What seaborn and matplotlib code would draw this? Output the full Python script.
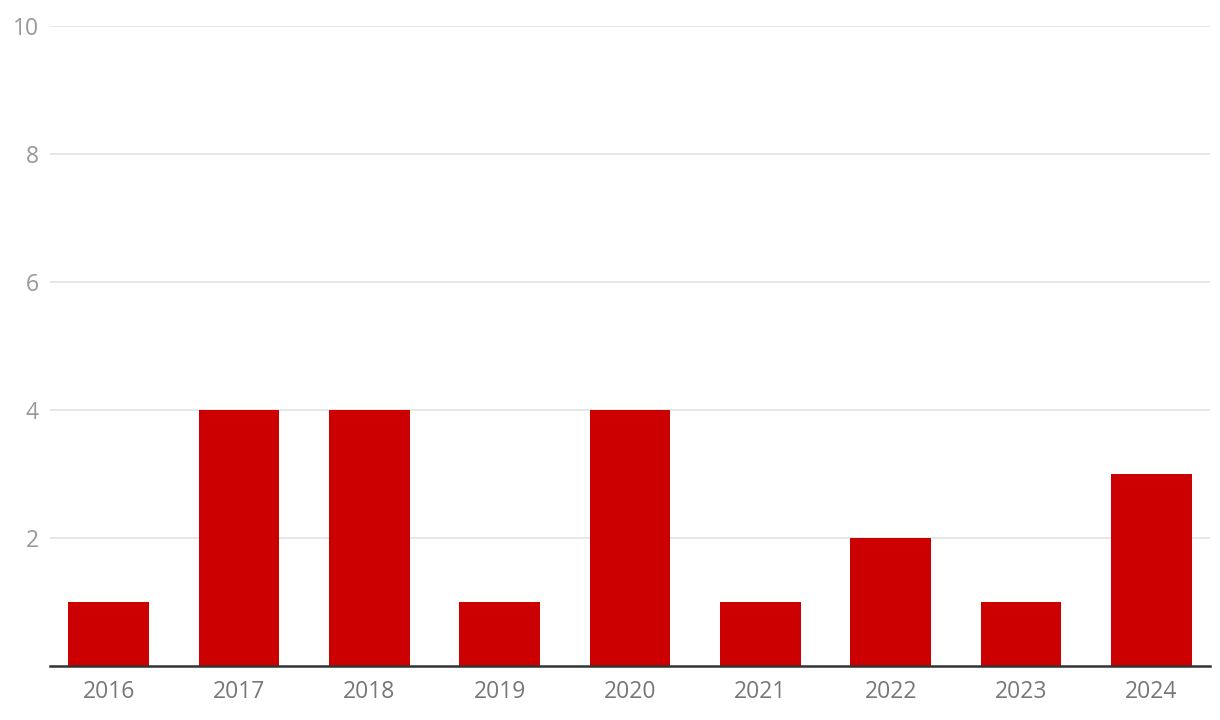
import matplotlib
matplotlib.use("Agg")
import matplotlib.pyplot as plt
import pandas as pd
import seaborn as sns

years = ["2016", "2017", "2018", "2019", "2020", "2021", "2022", "2023", "2024"]
counts = [1, 4, 4, 1, 4, 1, 2, 1, 3]
y_ticks = [2, 4, 6, 8, 10]

sns.set_theme(style="white")
plt.rcParams["font.family"] = ["Open Sans", "DejaVu Sans"]

df = pd.DataFrame({"year": years, "count": counts})

fig = plt.figure(figsize=(12.2, 7.2), dpi=100)
ax = fig.add_axes([50 / 1220, 1 - 666 / 720, 1160 / 1220, 640 / 720])

sns.barplot(data=df, x="year", y="count", color="#cc0000", width=0.62,
            saturation=1, linewidth=0, ax=ax, zorder=3)

ax.set_xlim(-0.45, 8.45)
ax.set_ylim(0, 10)
ax.set_yticks(y_ticks)
ax.grid(axis="y", color="#e3e3e3", linewidth=1.2, zorder=0)
ax.set_xlabel("")
ax.set_ylabel("")

for s in ["top", "right", "left"]:
    ax.spines[s].set_visible(False)
ax.spines["bottom"].set_color("#333333")
ax.spines["bottom"].set_linewidth(1.8)
ax.spines["bottom"].set_zorder(4)

ax.tick_params(axis="x", length=0, pad=10, labelsize=16.5, labelcolor="#777777")
ax.tick_params(axis="y", length=0, pad=8, labelsize=16.5, labelcolor="#999999")

fig.savefig("out.png", dpi=100)
